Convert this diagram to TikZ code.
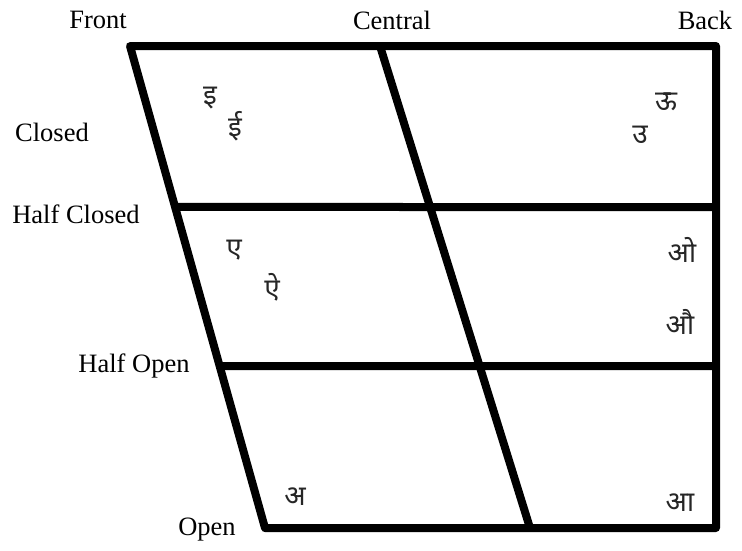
\documentclass[tikz,border=0pt]{standalone}
\usepackage{fontspec}
\setmainfont{Liberation Serif}
\newfontfamily\deva[Script=Devanagari]{Noto Sans}
\usetikzlibrary{calc}
\begin{document}
\begin{tikzpicture}[x=1pt,y=-1pt,
  frame/.style={line width=8pt,line join=round},
  lbl/.style={font=\fontsize{26.5}{28}\selectfont,inner sep=0pt},
  vow/.style={font=\deva\fontsize{28}{32}\selectfont,inner sep=0pt,text=black!85}]
\useasboundingbox (0,0) rectangle (742,550);
\coordinate (TL) at (130,46);
\coordinate (TR) at (716,46);
\coordinate (BR) at (716,528);
\coordinate (BL) at (265,528);
\coordinate (TC) at (380,46);
\coordinate (BC) at (530,528);
\coordinate (HCL) at ($(TL)!0.334!(BL)$);
\coordinate (HCR) at (716,207);
\coordinate (HOL) at ($(TL)!0.664!(BL)$);
\coordinate (HOR) at (716,366);
\draw[frame] (TL) -- (TR) -- (BR) -- (BL) -- cycle;
\draw[frame] (TC) -- (BC);
\draw[frame] (HCL) -- (HCR);
\draw[frame] (HOL) -- (HOR);
\node[lbl] (front) at (98,20) {Front};
\node[lbl] (central) at (392,20) {Central};
\node[lbl] (back) at (705,20) {Back};
\node[lbl] (closed) at (52,132) {Closed};
\node[lbl] (halfclosed) at (76,214) {Half Closed};
\node[lbl] (halfopen) at (134,366) {Half Open};
\node[lbl] (open) at (207,530) {Open};
\node[vow] (i) at (210,98) {इ};
\node[vow] (ii) at (235,126) {ई};
\node[vow] (uu) at (666,102) {ऊ};
\node[vow] (u) at (640,135) {उ};
\node[vow] (e) at (234,250) {ए};
\node[vow] (ai) at (272,287) {ऐ};
\node[vow] (o) at (682,250) {ओ};
\node[vow] (au) at (680,322) {औ};
\node[vow] (a) at (295,497) {अ};
\node[vow] (aa) at (680,503) {आ};
\end{tikzpicture}
\end{document}
